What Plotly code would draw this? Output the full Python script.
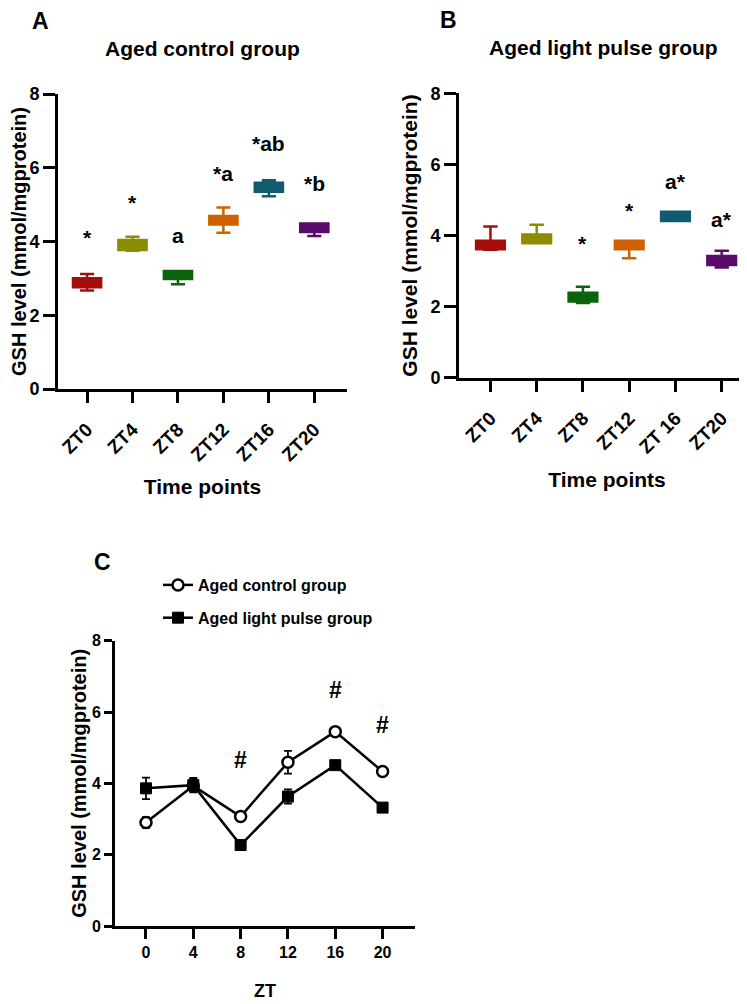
import plotly.graph_objects as go

# ---------------- data ----------------
categories_A = ["ZT0", "ZT4", "ZT8", "ZT12", "ZT16", "ZT20"]
categories_B = ["ZT0", "ZT4", "ZT8", "ZT12", "ZT 16", "ZT20"]
box_colors = ["#A60D0D", "#8C8C00", "#0B640B", "#CC6200", "#115B70", "#5A0A68"]

# Panel A: aged control group (box statistics)
A_lower = [2.67, 3.75, 2.84, 4.24, 5.23, 4.15]
A_q1 = [2.76, 3.77, 2.98, 4.46, 5.35, 4.26]
A_med = [2.88, 3.92, 3.10, 4.60, 5.47, 4.38]
A_q3 = [3.00, 4.04, 3.20, 4.69, 5.59, 4.49]
A_upper = [3.12, 4.13, 3.20, 4.92, 5.66, 4.49]
A_sig_text = ["*", "*", "a", "*a", "*ab", "*b"]
A_sig_y = [4.12, 5.07, 4.17, 5.85, 6.67, 5.58]

# Panel B: aged light pulse group (box statistics)
B_lower = [3.60, 3.78, 2.10, 3.36, 4.41, 3.10]
B_q1 = [3.61, 3.78, 2.14, 3.61, 4.41, 3.17]
B_med = [3.75, 3.90, 2.28, 3.72, 4.53, 3.30]
B_q3 = [3.85, 4.03, 2.39, 3.85, 4.67, 3.42]
B_upper = [4.25, 4.30, 2.56, 3.85, 4.67, 3.57]
B_sig_text = ["", "", "*", "*", "a*", "a*"]
B_sig_y = [None, None, 3.78, 4.71, 5.51, 4.44]

# Panel C: mean +/- error
zt = [0, 4, 8, 12, 16, 20]
control_mean = [2.90, 3.93, 3.07, 4.59, 5.45, 4.33]
control_err = [0.15, 0.15, 0.08, 0.32, 0.12, 0.08]
light_mean = [3.86, 3.95, 2.27, 3.63, 4.51, 3.32]
light_err = [0.30, 0.20, 0.10, 0.20, 0.07, 0.10]
C_sig_x = [8, 16, 20]
C_sig_y = [4.65, 6.62, 5.64]
C_sig_text = ["#", "#", "#"]

# ---------------- figure ----------------
W, H = 747, 1004
OFF = 8  # page body margin that shifts the plot in the browser
SANS = "Liberation Sans, Arial, Helvetica, sans-serif"


def px(x):
    return (x - OFF) / W


def py(y):
    return 1 - (y - OFF) / H


fig = go.Figure()

for i, c in enumerate(categories_A):
    fig.add_trace(go.Box(
        x=[c], q1=[A_q1[i]], median=[A_med[i]], q3=[A_q3[i]],
        lowerfence=[A_lower[i]], upperfence=[A_upper[i]],
        fillcolor=box_colors[i], line=dict(color=box_colors[i], width=2.5),
        width=0.62, whiskerwidth=0.5, boxpoints=False, showlegend=False,
        xaxis="x", yaxis="y", hoverinfo="skip"))

for i, c in enumerate(categories_B):
    fig.add_trace(go.Box(
        x=[c], q1=[B_q1[i]], median=[B_med[i]], q3=[B_q3[i]],
        lowerfence=[B_lower[i]], upperfence=[B_upper[i]],
        fillcolor=box_colors[i], line=dict(color=box_colors[i], width=2.5),
        width=0.62, whiskerwidth=0.5, boxpoints=False, showlegend=False,
        xaxis="x2", yaxis="y2", hoverinfo="skip"))

fig.add_trace(go.Scatter(
    x=zt, y=control_mean, mode="lines+markers", name="Aged control group",
    legendgroup="g1",
    line=dict(color="black", width=2.5),
    marker=dict(symbol="circle", size=11, color="white", line=dict(color="black", width=2.5)),
    error_y=dict(type="data", array=control_err, color="black", thickness=1.8, width=4),
    xaxis="x3", yaxis="y3"))
fig.add_trace(go.Scatter(
    x=zt, y=light_mean, mode="lines+markers", name="Aged light pulse group",
    legendgroup="g2",
    line=dict(color="black", width=2.5),
    marker=dict(symbol="square", size=11, color="black", line=dict(color="black", width=1)),
    error_y=dict(type="data", array=light_err, color="black", thickness=1.8, width=4),
    xaxis="x3", yaxis="y3"))

axis_common = dict(showline=True, linewidth=3, linecolor="black", ticks="outside",
                   tickwidth=3, tickcolor="black", showgrid=False, zeroline=False,
                   automargin=False)

annotations = []
for i, t in enumerate(A_sig_text):
    annotations.append(dict(x=categories_A[i], y=A_sig_y[i], xref="x", yref="y", text=t,
                            xanchor="center", yanchor="middle",
                            showarrow=False, font=dict(family=SANS, size=21, weight="bold")))
for i, t in enumerate(B_sig_text):
    if t:
        annotations.append(dict(x=categories_B[i], y=B_sig_y[i], xref="x2", yref="y2", text=t,
                                xanchor="center", yanchor="middle",
                                showarrow=False, font=dict(family=SANS, size=21, weight="bold")))
for xv, yv, t in zip(C_sig_x, C_sig_y, C_sig_text):
    annotations.append(dict(x=xv, y=yv, xref="x3", yref="y3", text=t,
                            xanchor="center", yanchor="middle",
                            showarrow=False, font=dict(family=SANS, size=23, weight="bold")))

# panel letters and titles
label_specs = [
    ("A", 40, 21, 23), ("B", 448, 20, 23), ("C", 102, 562, 23),
    ("Aged control group", 202, 49, 21), ("Aged light pulse group", 603, 48, 21),
]
for txt, xx, yy, sz in label_specs:
    annotations.append(dict(x=px(xx), y=py(yy), xref="paper", yref="paper", text=txt,
                            xanchor="center", yanchor="middle", showarrow=False,
                            font=dict(family=SANS, size=sz, weight="bold", color="black")))

ytickf = dict(family=SANS, size=18, color="black", weight="bold")
xtickf = dict(family=SANS, size=19, color="black", weight="bold")
titlef = dict(family=SANS, size=21, color="black", weight="bold")
tickfc = dict(family=SANS, size=16, color="black", weight="bold")

fig.update_layout(
    template="none",
    width=W, height=H,
    margin=dict(l=0, r=0, t=0, b=0, pad=0),
    paper_bgcolor="white", plot_bgcolor="white",
    font=dict(family=SANS, color="black"),
    boxmode="overlay",
    xaxis=dict(domain=[px(58), px(347)], anchor="y", type="category",
               categoryorder="array", categoryarray=categories_A,
               range=[-0.64, 5.72], ticklen=11, tickangle=-45, tickfont=xtickf,
               ticklabelstandoff=8,
               title=dict(text="Time points", font=titlef, standoff=16), **axis_common),
    yaxis=dict(domain=[py(389), py(94)], anchor="x", range=[0, 8], dtick=2,
               ticklen=12, tickfont=ytickf,
               title=dict(text="GSH level (mmol/mgprotein)",
                          font=dict(family=SANS, size=20, color="black", weight="bold"),
                          standoff=14),
               **axis_common),
    xaxis2=dict(domain=[px(459), 1.0], anchor="y2", type="category",
                categoryorder="array", categoryarray=categories_B,
                range=[-0.68, 5.72], ticklen=11, tickangle=-45, tickfont=xtickf,
                ticklabelstandoff=8,
                title=dict(text="Time points", font=titlef, standoff=16), **axis_common),
    yaxis2=dict(domain=[py(377.7), py(93.3)], anchor="x2", range=[0, 8], dtick=2,
                ticklen=12, tickfont=ytickf,
                title=dict(text="GSH level (mmol/mgprotein)", font=titlef, standoff=8),
                **axis_common),
    xaxis3=dict(domain=[px(115), px(415)], anchor="y3", range=[-2.62, 22.74],
                tickvals=zt, ticklen=10, tickfont=tickfc,
                title=dict(text="ZT", font=dict(family=SANS, size=18, color="black", weight="bold"),
                           standoff=25), **axis_common),
    yaxis3=dict(domain=[py(926), py(640.7)], anchor="x3", range=[0, 8], dtick=2,
                ticklen=8, tickfont=tickfc,
                title=dict(text="GSH level (mmol/mgprotein)",
                           font=dict(family=SANS, size=20, color="black", weight="bold"),
                           standoff=0),
                **axis_common),
    legend=dict(x=px(158), y=py(568), xanchor="left", yanchor="top",
                font=dict(family=SANS, size=16, color="black", weight="bold"),
                bgcolor="rgba(0,0,0,0)", traceorder="grouped", tracegroupgap=9),
    annotations=annotations,
)

fig.write_html("out.html")
